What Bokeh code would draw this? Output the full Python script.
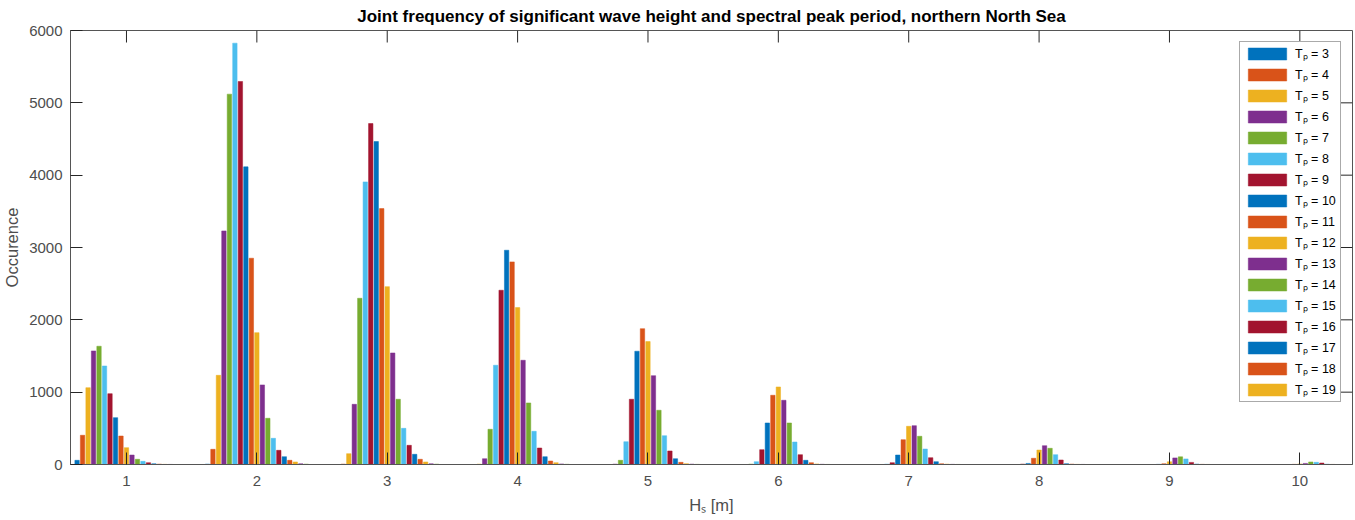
from bokeh.plotting import figure
from bokeh.models import ColumnDataSource, Range1d, FixedTicker, Legend, LegendItem
from bokeh.transform import dodge
from bokeh.embed import file_html
from bokeh.resources import INLINE

hs = [1, 2, 3, 4, 5, 6, 7, 8, 9, 10]
tp = [3, 4, 5, 6, 7, 8, 9, 10, 11, 12, 13, 14, 15, 16, 17, 18, 19, 20, 21]
tp_in_legend = 17
y_ticks = [0, 1000, 2000, 3000, 4000, 5000, 6000]

occ = {
    3:  [58, 5, 0, 0, 0, 0, 0, 0, 0, 0],
    4:  [404, 210, 5, 0, 0, 0, 0, 0, 0, 0],
    5:  [1062, 1233, 150, 5, 0, 0, 0, 0, 0, 0],
    6:  [1570, 3229, 832, 80, 5, 0, 0, 0, 0, 0],
    7:  [1635, 5120, 2298, 487, 58, 5, 0, 0, 0, 0],
    8:  [1362, 5825, 3907, 1372, 315, 39, 5, 0, 0, 0],
    9:  [979, 5295, 4714, 2409, 902, 205, 25, 5, 0, 0],
    10: [648, 4115, 4465, 2962, 1566, 574, 131, 15, 2, 0],
    11: [394, 2852, 3538, 2801, 1878, 957, 343, 86, 10, 2],
    12: [233, 1823, 2459, 2169, 1699, 1072, 528, 200, 38, 8],
    13: [131, 1100, 1542, 1441, 1228, 888, 537, 260, 91, 15],
    14: [72, 639, 902, 851, 750, 574, 390, 224, 106, 35],
    15: [44, 362, 500, 459, 398, 311, 214, 136, 77, 30],
    16: [25, 196, 265, 228, 187, 136, 94, 62, 29, 20],
    17: [10, 108, 141, 108, 80, 58, 39, 12, 5, 3],
    18: [5, 58, 72, 48, 30, 25, 10, 5, 2, 1],
    19: [2, 35, 35, 25, 12, 8, 5, 2, 1, 0],
    20: [1, 10, 10, 8, 5, 3, 2, 1, 0, 0],
    21: [0, 5, 5, 3, 2, 1, 1, 0, 0, 0],
}

colors = ["#0072BD", "#D95319", "#EDB120", "#7E2F8E", "#77AC30", "#4DBEEE", "#A2142F"]

FONT = "Liberation Sans"
AX = "#262626"
BOX = "#555555"
TXT = "#4d4d4d"

FW, FH = 1282, 434
X0, X1 = 0.5706, 10.404
Y0, Y1 = 0, 6000
TICK = 12

data = {"hs": hs}
for t in tp:
    data["tp%d" % t] = occ[t]
src = ColumnDataSource(data)

p = figure(frame_width=FW, frame_height=FH, output_backend="svg", toolbar_location=None,
           x_range=Range1d(X0, X1), y_range=Range1d(Y0, Y1),
           min_border_left=63, min_border_right=2, min_border_top=22, min_border_bottom=56)
p.background_fill_color = "white"
p.border_fill_color = "white"
p.outline_line_color = BOX
p.xgrid.visible = False
p.ygrid.visible = False

n = len(tp)
gw = min(0.8, n / (n + 1.5))
bw = 0.8 * gw / n
items = []
for i, t in enumerate(tp):
    off = -gw / 2 + (i + 0.5) * gw / n
    c = colors[i % len(colors)]
    r = p.vbar(x=dodge("hs", off, range=p.x_range), top="tp%d" % t, width=bw, bottom=0,
               source=src, fill_color=c, line_color=c, line_width=0.5)
    if i < tp_in_legend:
        items.append(LegendItem(label="T\u209a = %d" % t, renderers=[r]))

# inward ticks on the top and right edges of the box (MATLAB "box on")
ty = TICK * (Y1 - Y0) / FH
tx = TICK * (X1 - X0) / FW
p.segment(x0=hs, x1=hs, y0=[Y1] * len(hs), y1=[Y1 - ty] * len(hs), line_color=AX, line_width=1)
ry = y_ticks[1:-1]
p.segment(x0=[X1] * len(ry), x1=[X1 - tx] * len(ry), y0=ry, y1=ry, line_color=AX, line_width=1)

p.title.text = "Joint frequency of significant wave height and spectral peak period, northern North Sea"
p.title.align = "center"
p.title.text_font = FONT
p.title.text_font_size = "17px"
p.title.text_font_style = "bold"
p.title.text_color = "#000000"
p.title.standoff = 9

def style_axis(ax):
    ax.axis_line_color = BOX
    ax.major_tick_line_color = AX
    ax.major_tick_in = TICK
    ax.major_tick_out = 0
    ax.minor_tick_line_color = None
    ax.major_label_text_font = FONT
    ax.major_label_text_font_size = "15px"
    ax.major_label_text_color = TXT
    ax.axis_label_text_font = FONT
    ax.axis_label_text_font_size = "16.5px"
    ax.axis_label_text_font_style = "normal"
    ax.axis_label_text_color = TXT

xa = p.xaxis[0]
xa.ticker = FixedTicker(ticks=hs)
style_axis(xa)
xa.major_label_standoff = 11
xa.axis_label = "H\u209b [m]"
xa.axis_label_standoff = 7

ya = p.yaxis[0]
ya.ticker = FixedTicker(ticks=y_ticks)
style_axis(ya)
ya.major_label_standoff = 8
ya.axis_label = "Occurence"
ya.axis_label_standoff = 5

leg = Legend(items=items, location="top_right")
leg.margin = 11
leg.padding = 3
leg.spacing = 4
leg.glyph_width = 48
leg.glyph_height = 15
leg.label_height = 15
leg.label_width = 42
leg.label_standoff = 4
leg.label_text_font = FONT
leg.label_text_font_size = "12.5px"
leg.label_text_color = "#000000"
leg.border_line_color = BOX
leg.border_line_width = 1
leg.background_fill_color = "white"
leg.background_fill_alpha = 1
p.add_layout(leg)

open("out.html", "w").write(file_html(p, INLINE))
